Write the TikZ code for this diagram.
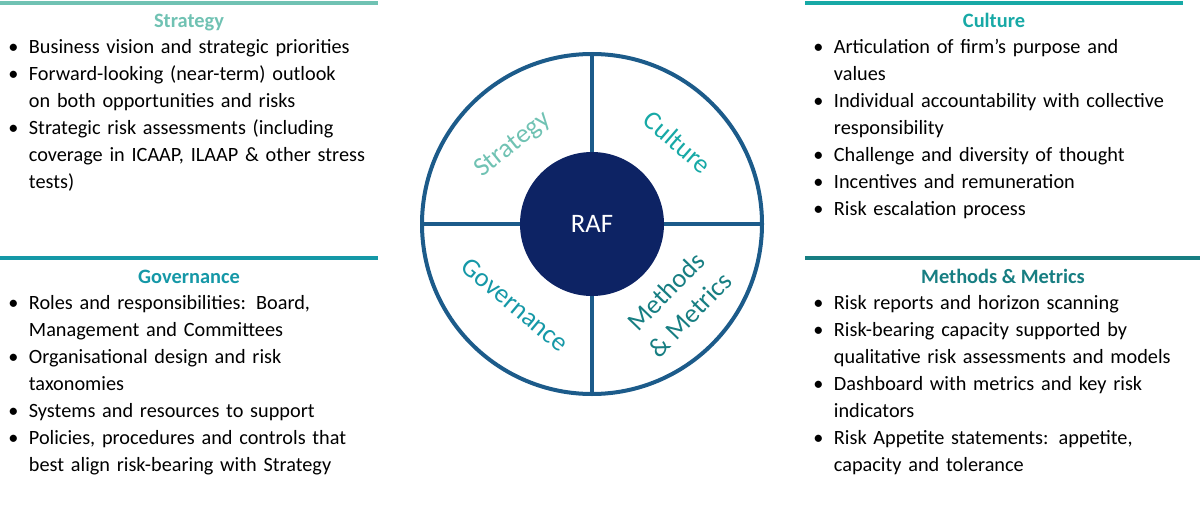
\documentclass[tikz,border=0pt]{standalone}
\usepackage{fontspec}
\setmainfont{Carlito}
\usepackage{xcolor}
\usepackage{tikz}
\usetikzlibrary{positioning}

\definecolor{stratcol}{HTML}{70C2B3}
\definecolor{cultcol}{HTML}{17A9A6}
\definecolor{govcol}{HTML}{1598A7}
\definecolor{methcol}{HTML}{177E82}
\definecolor{ringcol}{HTML}{1C5B8A}
\definecolor{rafcol}{HTML}{0D2364}

% one bullet line with hanging indent
\newcommand{\bul}[1]{\noindent\hangindent=15.5pt\hangafter=1\makebox[15.5pt][l]{\textbullet}#1\par}

\tikzset{
  headline/.style={line width=3pt},
  boxtitle/.style={anchor=base, font=\fontsize{15.3pt}{18pt}\selectfont\bfseries, inner sep=0pt},
  bulletbox/.style={anchor=base west, inner sep=0pt, text width=320pt, align=left,
    font=\fontsize{15.2pt}{20.25pt}\selectfont},
  wedgelabel/.style={font=\fontsize{20pt}{25pt}\selectfont, inner sep=0pt, align=center},
}

\begin{document}
\begin{tikzpicture}[x=0.75pt, y=-0.75pt]
            \useasboundingbox (0,0) rectangle (1202,517);

            % header lines
            \coordinate (s1) at (0,3);     \coordinate (s2) at (378,3);
            \coordinate (c1) at (805,3);   \coordinate (c2) at (1183,3);
            \coordinate (g1) at (0,258);   \coordinate (g2) at (378,258);
            \coordinate (m1) at (805,258); \coordinate (m2) at (1200,258);
            \draw[headline, stratcol] (s1) -- (s2);
            \draw[headline, cultcol] (c1) -- (c2);
            \draw[headline, govcol] (g1) -- (g2);
            \draw[headline, methcol] (m1) -- (m2);

            % titles
            \node[boxtitle, text=stratcol] (stitle) at (189,28) {Strategy};
            \node[boxtitle, text=cultcol] (ctitle) at (994,28) {Culture};
            \node[boxtitle, text=govcol] (gtitle) at (189,283) {Governance};
            \node[boxtitle, text=methcol] (mtitle) at (1003,283) {Methods \& Metrics};

            % bullet lists
            \node[bulletbox] (slist) at (8,54) {%
                \bul{Business vision and strategic priorities}
                \bul{Forward-looking (near-term) outlook\newline on both opportunities and risks}
                \bul{Strategic risk assessments (including\newline coverage in ICAAP, ILAAP \& other stress\newline tests)}};
            \node[bulletbox] (clist) at (813,54) {%
                \bul{Articulation of firm’s purpose and\newline values}
                \bul{Individual accountability with collective\newline responsibility}
                \bul{Challenge and diversity of thought}
                \bul{Incentives and remuneration}
                \bul{Risk escalation process}};
            \node[bulletbox] (glist) at (8,309) {%
                \bul{Roles and responsibilities: Board,\newline Management and Committees}
                \bul{Organisational design and risk\newline taxonomies}
                \bul{Systems and resources to support}
                \bul{Policies, procedures and controls that\newline best align risk-bearing with Strategy}};
            \node[bulletbox] (mlist) at (813,309) {%
                \bul{Risk reports and horizon scanning}
                \bul{Risk-bearing capacity supported by\newline qualitative risk assessments and models}
                \bul{Dashboard with metrics and key risk\newline indicators}
                \bul{Risk Appetite statements: appetite,\newline capacity and tolerance}};

            % the wheel
            \node[circle, draw=ringcol, line width=3pt, minimum size=255pt, inner sep=0pt] (ring) at (592,224) {};
            \draw[ringcol, line width=3pt] (ring.north) -- (ring.south);
            \draw[ringcol, line width=3pt] (ring.west) -- (ring.east);
            \node[circle, fill=rafcol, minimum size=108pt, inner sep=0pt, text=white,
                  font=\fontsize{20pt}{21pt}\selectfont] (raf) at (ring.center) {RAF};

            \node[wedgelabel, text=stratcol, rotate=39] (swedge) at (513,145) {Strategy};
            \node[wedgelabel, text=cultcol, rotate=-41] (cwedge) at (678,142) {Culture};
            \node[wedgelabel, text=govcol, rotate=-40] (gwedge) at (515,305) {Governance};
            \node[wedgelabel, text=methcol, rotate=46] (mwedge) at (678,303) {Methods\\\& Metrics};
        \end{tikzpicture}
\end{document}
